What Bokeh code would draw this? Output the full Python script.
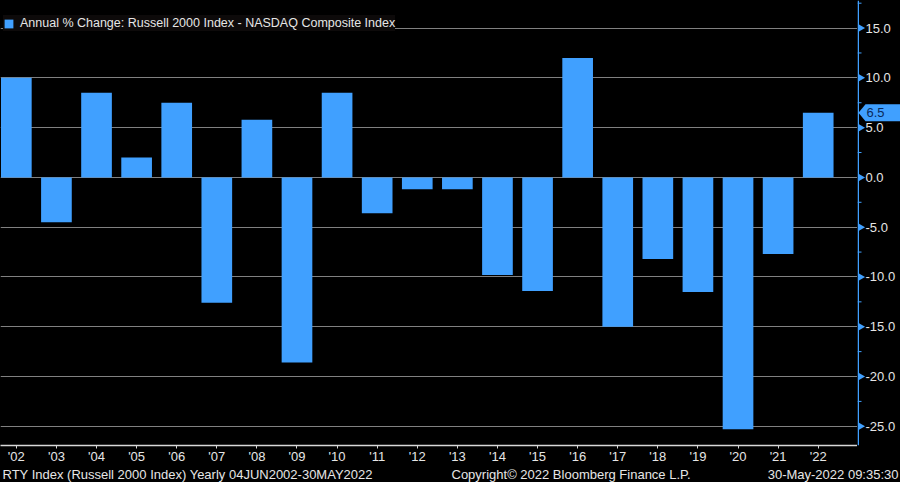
import math
from bokeh.plotting import figure
from bokeh.layouts import column, row
from bokeh.models import (FixedTicker, Range1d, ColumnDataSource, Grid, Span)
from bokeh.core.properties import value
from bokeh.embed import file_html
from bokeh.resources import INLINE

# ---- data ----
year_labels = ["'02", "'03", "'04", "'05", "'06", "'07", "'08", "'09", "'10", "'11",
               "'12", "'13", "'14", "'15", "'16", "'17", "'18", "'19", "'20", "'21", "'22"]
annual_change = [10.0, -4.5, 8.5, 2.0, 7.5, -12.6, 5.8, -18.6, 8.5, -3.6,
                 -1.2, -1.2, -9.8, -11.4, 12.0, -15.0, -8.2, -11.5, -25.3, -7.7, 6.5]
y_ticks = [-25, -20, -15, -10, -5, 0, 5, 10, 15]
y_minor = [-22.5, -17.5, -12.5, -7.5, -2.5, 2.5, 7.5, 12.5, 17.5]
last_value = annual_change[-1]
series_name = "Annual % Change: Russell 2000 Index - NASDAQ Composite Index"
footer_texts = ["RTY Index (Russell 2000 Index)  Yearly 04JUN2002-30MAY2022",
                "Copyright\u00a9 2022 Bloomberg Finance L.P.",
                "30-May-2022 09:35:30"]

BLUE = "#40a0ff"
FONT = "Liberation Sans"
TXT = "#e6e6e6"

W, H = 900, 482
SIDE_W = 43
MAIN_W = W - SIDE_W
FOOT_H = 16
TOP_H = H - FOOT_H
BB = 19
FRAME_H = TOP_H - BB
Y0, Y1 = -26.93, 17.77
yr = Range1d(Y0, Y1)

idx = list(range(len(year_labels)))
src = ColumnDataSource(dict(x=idx, y=annual_change))

# ---------------- main chart ----------------
p = figure(width=MAIN_W, height=TOP_H, output_backend="svg", toolbar_location=None,
           y_axis_location=None,
           x_range=Range1d(-0.395, 20.98), y_range=yr,
           background_fill_color="black", border_fill_color="black",
           min_border_left=0, min_border_top=0, min_border_right=0,
           min_border_bottom=BB)
p.outline_line_color = None

p.vbar(x="x", top="y", bottom=0, width=0.765, source=src, fill_color=BLUE,
       line_color=None, legend_label=series_name)

p.xgrid.grid_line_color = None
for g in p.ygrid:
    g.grid_line_color = None
p.add_layout(Grid(dimension=1, ticker=FixedTicker(ticks=y_ticks),
                  grid_line_color="#808080", grid_line_width=1))

xa = p.xaxis[0]
xa.ticker = FixedTicker(ticks=idx)
xa.major_label_overrides = {i: s for i, s in zip(idx, year_labels)}
xa.axis_line_color = "#d8d8d8"
xa.axis_line_width = 1.5
xa.major_tick_line_color = "#d8d8d8"
xa.major_tick_in = 0
xa.major_tick_out = 3
xa.minor_tick_line_color = None
xa.major_label_text_color = TXT
xa.major_label_text_font = FONT
xa.major_label_text_font_size = "13px"
xa.major_label_standoff = 0

lg = p.legend[0]
lg.location = (3, FRAME_H - 33)
lg.margin = 0
lg.padding = 5
lg.spacing = 0
lg.background_fill_color = "#0d0a0a"
lg.background_fill_alpha = 1
lg.border_line_color = None
lg.label_text_color = TXT
lg.label_text_font = FONT
lg.label_text_font_size = "12.5px"
lg.glyph_width = 11
lg.glyph_height = 11
lg.label_standoff = 6
lg.label_height = 16

# ---------------- right value axis ----------------
s = figure(width=SIDE_W, height=TOP_H, output_backend="svg", toolbar_location=None,
           x_axis_location=None, y_axis_location=None,
           x_range=Range1d(0, SIDE_W), y_range=yr,
           background_fill_color="black", border_fill_color="black",
           min_border_left=0, min_border_top=0, min_border_right=0,
           min_border_bottom=BB)
s.outline_line_color = None
s.grid.grid_line_color = None

s.add_layout(Span(location=0.75, dimension="height", line_color=BLUE, line_width=1.5))
s.segment(x0=0, x1=4, y0=y_minor, y1=y_minor, line_color=BLUE, line_width=1)
s.scatter(x=[3.5] * len(y_ticks), y=y_ticks, marker="triangle", size=7,
          angle=-math.pi / 2, fill_color=BLUE, line_color=None)

tick_src = ColumnDataSource(dict(y=y_ticks, t=[f"{v:.1f}" for v in y_ticks]))
s.text(x=8, y="y", text="t", source=tick_src, text_color=TXT,
       text_font=value(FONT), text_font_size="13px", text_baseline="middle",
       text_align="left")

# last value tag
h = 0.85
s.patch(x=[1, 8, SIDE_W, SIDE_W, 8],
        y=[last_value, last_value + h, last_value + h, last_value - h, last_value - h],
        fill_color=BLUE, line_color=None)
s.text(x=[9], y=[last_value], text=[f"{last_value:.1f}"], text_color="#0a2a5a",
       text_font=value(FONT), text_font_size="13px", text_baseline="middle",
       text_align="left")

# ---------------- footer ----------------
f = figure(width=W, height=FOOT_H, output_backend="svg", toolbar_location=None,
           x_axis_location=None, y_axis_location=None,
           x_range=Range1d(0, W), y_range=Range1d(0, FOOT_H),
           background_fill_color="black", border_fill_color="black",
           min_border=0)
f.outline_line_color = None
f.grid.grid_line_color = None
foot_src = ColumnDataSource(dict(x=[2, 451, W - 2], y=[8, 8, 8], t=footer_texts,
                                 a=["left", "left", "right"]))
f.text(x="x", y="y", text="t", text_align="a", source=foot_src, text_color=TXT,
       text_font=value(FONT), text_font_size="13px", text_baseline="middle")

layout = column(row(p, s, spacing=0), f, spacing=0, styles={"background": "black"})
open("out.html", "w").write(file_html(layout, INLINE))
